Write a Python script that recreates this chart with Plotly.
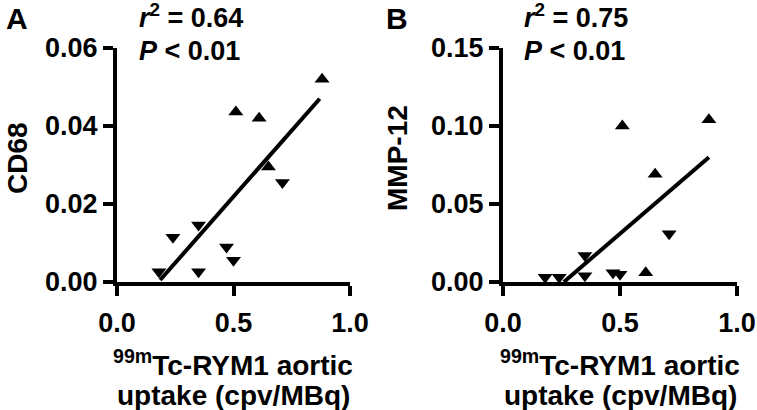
import plotly.graph_objects as go

W, H = 757, 410

# ---- data ----
a_down_x = [0.18, 0.24, 0.35, 0.35, 0.47, 0.50, 0.71]
a_down_y = [0.0026, 0.0115, 0.0146, 0.0026, 0.0090, 0.0056, 0.0255]
a_up_x = [0.51, 0.61, 0.65, 0.88]
a_up_y = [0.0436, 0.0420, 0.0295, 0.0520]
a_fit_x = [0.185, 0.87]
a_fit_y = [0.0005, 0.047]

b_down_x = [0.18, 0.24, 0.35, 0.35, 0.47, 0.50, 0.71]
b_down_y = [0.003, 0.003, 0.017, 0.004, 0.006, 0.005, 0.031]
b_up_x = [0.51, 0.61, 0.65, 0.88]
b_up_y = [0.100, 0.006, 0.069, 0.104]
b_fit_x = [0.26, 0.88]
b_fit_y = [0.0, 0.080]

x_ticks = [0.0, 0.5, 1.0]
a_y_ticks = [0.00, 0.02, 0.04, 0.06]
b_y_ticks = [0.00, 0.05, 0.10, 0.15]

a_stats = ["<i>r</i><sup>2</sup> = 0.64", "<i>P</i> < 0.01"]
b_stats = ["<i>r</i><sup>2</sup> = 0.75", "<i>P</i> < 0.01"]
x_title = ["<sup>99m</sup>Tc-RYM1 aortic", "uptake (cpv/MBq)"]
a_y_title = "CD68"
b_y_title = "MMP-12"

FONT = "Liberation Sans, Arial, sans-serif"


def px(x):
    return x / W


def py(y):
    return 1 - y / H


fig = go.Figure()

mk = dict(color="black", size=13)
for xs, ys, sym, ax in [
    (a_down_x, a_down_y, "triangle-down", ("x", "y")),
    (a_up_x, a_up_y, "triangle-up", ("x", "y")),
    (b_down_x, b_down_y, "triangle-down", ("x2", "y2")),
    (b_up_x, b_up_y, "triangle-up", ("x2", "y2")),
]:
    fig.add_trace(go.Scatter(x=xs, y=ys, mode="markers", xaxis=ax[0], yaxis=ax[1],
                             marker=dict(symbol=sym, **mk), cliponaxis=False,
                             showlegend=False))

for xs, ys, ax in [(a_fit_x, a_fit_y, ("x", "y")), (b_fit_x, b_fit_y, ("x2", "y2"))]:
    fig.add_trace(go.Scatter(x=xs, y=ys, mode="lines", xaxis=ax[0], yaxis=ax[1],
                             line=dict(color="black", width=4), cliponaxis=False,
                             showlegend=False))

tickfont = dict(family=FONT, size=27, color="black", weight="bold")
axis_common = dict(showline=True, linewidth=4, linecolor="black", ticks="outside",
                   ticklen=10, tickwidth=4, tickcolor="black", showgrid=False,
                   zeroline=False, tickfont=tickfont, fixedrange=True,
                   automargin=False)

ydom = [py(282), py(48)]
fig.update_layout(
    template="none",
    width=W, height=H, margin=dict(l=0, r=0, t=0, b=0, pad=0),
    paper_bgcolor="white", plot_bgcolor="white",
    xaxis=dict(domain=[px(117), px(350)], range=[0, 1], tickvals=x_ticks,
               tickformat=".1f", anchor="y", ticklabelstandoff=4, **axis_common),
    yaxis=dict(domain=ydom, range=[0, 0.06], tickvals=a_y_ticks, tickformat=".2f",
               anchor="x", **axis_common),
    xaxis2=dict(domain=[px(503), px(737)], range=[0, 1], tickvals=x_ticks,
                tickformat=".1f", anchor="y2", ticklabelstandoff=4, **axis_common),
    yaxis2=dict(domain=ydom, range=[0, 0.15], tickvals=b_y_ticks, tickformat=".2f",
                anchor="x2", **axis_common),
)

anns = []


def txt(text, x, y, size=27, xanchor="left", yanchor="middle", angle=0):
    anns.append(dict(text=text, x=px(x), y=py(y), xref="paper", yref="paper",
                     showarrow=False, xanchor=xanchor, yanchor=yanchor,
                     textangle=angle,
                     font=dict(family=FONT, size=size, color="black", weight="bold")))


# panel letters
txt("A", 4, 18, size=30)
txt("B", 384, 18, size=30)
# stats
txt(a_stats[0], 137, 16)
txt(a_stats[1], 137, 51)
txt(b_stats[0], 522, 16)
txt(b_stats[1], 522, 51)
# y titles
txt(a_y_title, 17, 158, size=28, xanchor="center", angle=-90)
txt(b_y_title, 397, 158, size=28, xanchor="center", angle=-90)
# x titles
for cx in (233, 620):
    txt(x_title[0], cx, 363, size=28, xanchor="center")
    txt(x_title[1], cx, 395, size=28, xanchor="center")

fig.update_layout(annotations=anns)
fig.write_html("out.html", config={"displayModeBar": False},
               post_script="document.body.style.margin='0';document.body.style.overflow='hidden';")
